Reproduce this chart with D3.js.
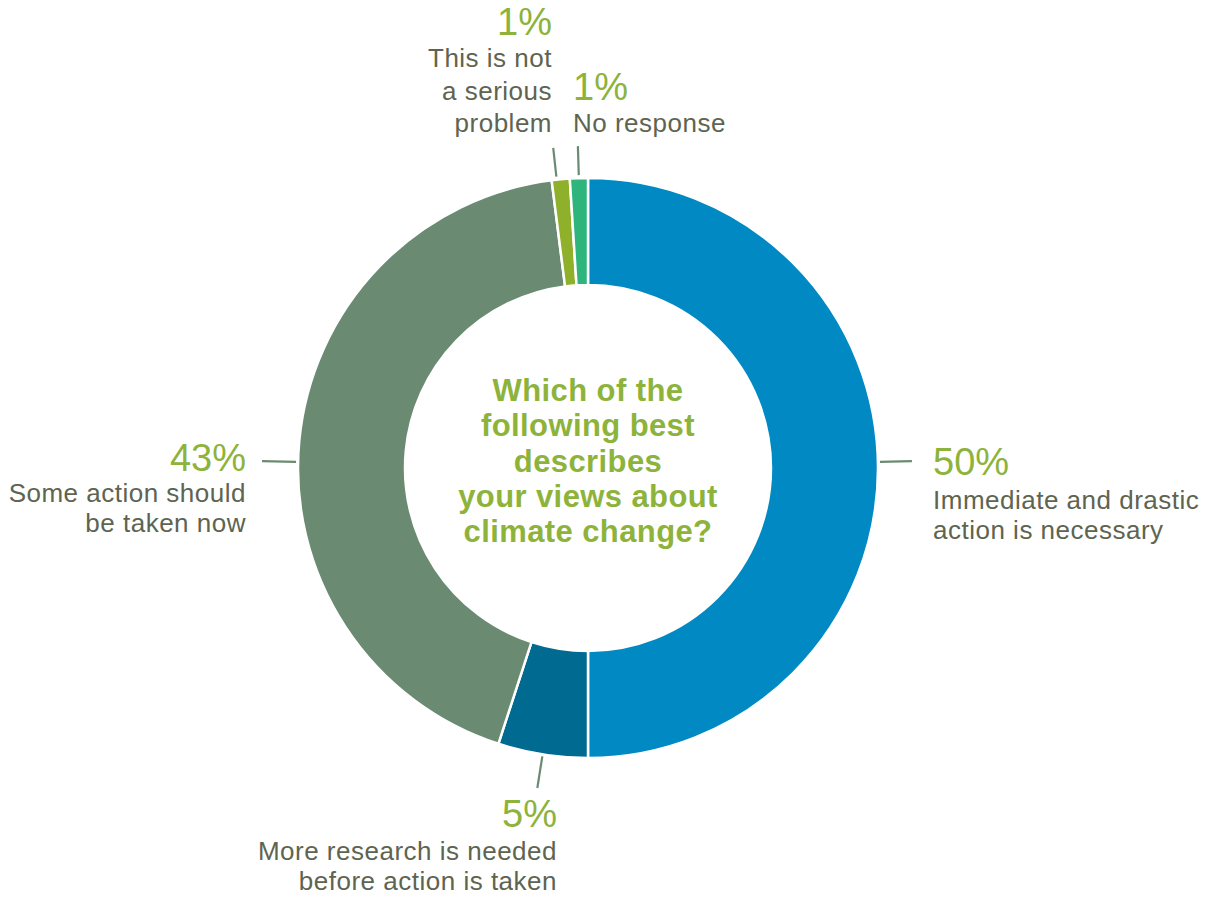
<!DOCTYPE html>
<html>
<head>
<meta charset="utf-8">
<script src="https://cdn.jsdelivr.net/npm/d3@7"></script>
<style>
  html, body { margin: 0; padding: 0; background: #ffffff; }
  svg { display: block; }
  text { font-family: "Liberation Sans", Arial, Helvetica, sans-serif; }
</style>
</head>
<body>
<svg id="chart" width="1212" height="898"></svg>
<script>
// Survey responses, clockwise from 12 o'clock
const categories = [
  "Immediate and drastic action is necessary",
  "More research is needed before action is taken",
  "Some action should be taken now",
  "This is not a serious problem",
  "No response"
];
const values = [50, 5, 43, 1, 1];
const percentLabels = ["50%", "5%", "43%", "1%", "1%"];
const labelLines = [
  ["Immediate and drastic", "action is necessary"],
  ["More research is needed", "before action is taken"],
  ["Some action should", "be taken now"],
  ["This is not", "a serious", "problem"],
  ["No response"]
];
const sliceColors = ["#0089c2", "#006a91", "#6a8b72", "#8fb02b", "#2db57b"];
const titleLines = ["Which of the", "following best", "describes", "your views about", "climate change?"];

const W = 1212, H = 898;
const cx = 588, cy = 468;
const outerR = 290, innerR = 183;

const svg = d3.select("#chart");
const g = svg.append("g").attr("transform", `translate(${cx},${cy})`);

const pie = d3.pie().sort(null).value(d => d);
const arcs = pie(values);
const arc = d3.arc().innerRadius(innerR).outerRadius(outerR);

g.selectAll("path.slice")
  .data(arcs)
  .join("path")
  .attr("class", "slice")
  .attr("d", arc)
  .attr("fill", (d, i) => sliceColors[i])
  .attr("stroke", "#ffffff")
  .attr("stroke-width", 2.5);

// Label placement for each slice: leader angle nudge, leader radii, text anchor point
const layout = [
  { angleShift: -1.2, r0: 292, r1: 324, dx: 345, dy: 7, anchor: "start", gap: 34, lh: 30 },
  { angleShift: 0,    r0: 292, r1: 324, dx: -31, dy: 359, anchor: "end", gap: 33, lh: 30 },
  { angleShift: -4.2, r0: 292, r1: 326, dx: -342, dy: 3, anchor: "end", gap: 31, lh: 30 },
  { angleShift: -0.8, r0: 293, r1: 322, dx: -36, dy: -433, anchor: "end", gap: 32, lh: 32.5 },
  { angleShift: 0,    r0: 293, r1: 322, dx: -15, dy: -368, anchor: "start", gap: 32, lh: 32 }
];

const toXY = (angleRad, r) => [r * Math.sin(angleRad), -r * Math.cos(angleRad)];

arcs.forEach((d, i) => {
  const L = layout[i];
  const mid = (d.startAngle + d.endAngle) / 2 + L.angleShift * Math.PI / 180;
  const p0 = toXY(mid, L.r0), p1 = toXY(mid, L.r1);
  g.append("line")
    .attr("x1", p0[0]).attr("y1", p0[1])
    .attr("x2", p1[0]).attr("y2", p1[1])
    .attr("stroke", "#6a8b72")
    .attr("stroke-width", 2.2);

  const t = g.append("g").attr("transform", `translate(${L.dx},${L.dy})`);
  t.append("text")
    .attr("text-anchor", L.anchor)
    .attr("fill", "#8db33a")
    .attr("font-size", 38)
    .text(percentLabels[i]);
  labelLines[i].forEach((line, j) => {
    t.append("text")
      .attr("text-anchor", L.anchor)
      .attr("y", L.gap + j * L.lh)
      .attr("fill", "#5e6450")
      .attr("font-size", 26)
      .attr("letter-spacing", 0.5)
      .text(line);
  });
});

// Question in the centre of the ring
const title = g.append("text")
  .attr("text-anchor", "middle")
  .attr("fill", "#8db33a")
  .attr("font-size", 31)
  .attr("letter-spacing", 0.4)
  .attr("font-weight", "bold");
titleLines.forEach((line, j) => {
  title.append("tspan")
    .attr("x", 0)
    .attr("y", -67 + j * 35.3)
    .text(line);
});
</script>
</body>
</html>
